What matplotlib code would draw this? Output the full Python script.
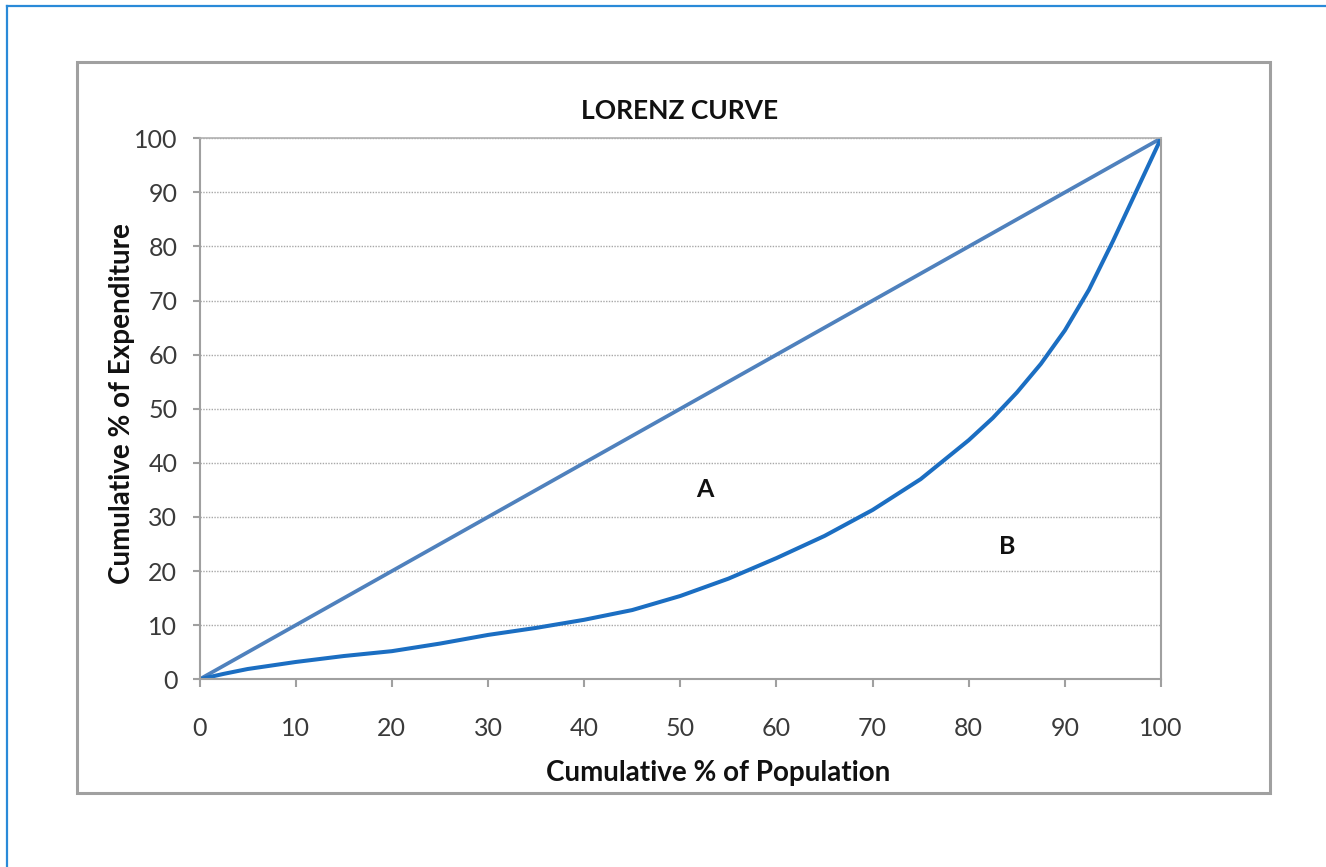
import matplotlib.pyplot as plt
from matplotlib.patches import Rectangle
from matplotlib.lines import Line2D

plt.rcParams["font.family"] = ["Lato", "DejaVu Sans"]

# cumulative % of population / expenditure
pop = [0, 2.5, 5, 10, 15, 20, 25, 30, 35, 40, 45, 50, 55, 60, 65, 70, 75, 80, 82.5, 85,
       87.5, 90, 92.5, 95, 97.5, 100]
expend = [0, 1.0, 1.9, 3.2, 4.3, 5.2, 6.6, 8.2, 9.5, 11, 12.8, 15.4, 18.6, 22.4, 26.5, 31.3,
          37, 44.2, 48.3, 53, 58.3, 64.5, 72, 81, 90.5, 100]

equal_x = [0, 100]
equal_y = [0, 100]

ticks = list(range(0, 101, 10))

fig = plt.figure(figsize=(13.26, 8.67), dpi=100)
ax = fig.add_axes([0.1505, 0.2165, 0.7251, 0.624])

# outer blue frame (top and left only) and grey chart border
fig.add_artist(Line2D([0.0053, 1], [0.9931, 0.9931], transform=fig.transFigure, color="#2a8ad8", lw=1.6))
fig.add_artist(Line2D([0.0053, 0.0053], [0, 0.9931], transform=fig.transFigure, color="#2a8ad8", lw=1.6))
fig.add_artist(Rectangle((0.0581, 0.0854), 0.8997, 0.8431, transform=fig.transFigure,
                         fill=False, edgecolor="#a0a0a0", lw=2.2))

ax.plot(equal_x, equal_y, color="#4f81bd", lw=2.7, solid_capstyle="round")
ax.plot(pop, expend, color="#1b6ec2", lw=2.9, solid_capstyle="round", solid_joinstyle="round")

ax.set_xlim(0, 100)
ax.set_ylim(0, 100)
ax.set_xticks(ticks)
ax.set_yticks(ticks)
ax.grid(axis="y", color="#a8a8a8", linestyle=(0, (1, 1)), lw=1.0)
ax.set_axisbelow(True)

for s in ax.spines.values():
    s.set_color("#a0a0a0")
    s.set_linewidth(1.5)
ax.spines["top"].set_color("#b0b0b0")
ax.spines["top"].set_linewidth(1.2)

ax.tick_params(axis="x", direction="out", length=6, width=1.5, color="#a0a0a0",
               pad=21, labelsize=18, labelcolor="#3a3a3a")
ax.tick_params(axis="y", direction="out", length=5, width=1.5, color="#a0a0a0",
               pad=11, labelsize=18, labelcolor="#3a3a3a")

ax.text(52.6, 35, "A", fontsize=18, fontweight="bold", ha="center", va="center", color="#111111")
ax.text(84, 24.6, "B", fontsize=18, fontweight="bold", ha="center", va="center", color="#111111")

fig.text(680 / 1326, 1 - 111 / 867, "LORENZ CURVE", fontsize=19, fontweight="bold",
         ha="center", va="center", color="#111111")
fig.text(718 / 1326, 1 - 773 / 867, "Cumulative % of Population", fontsize=20, fontweight="bold",
         ha="center", va="center", color="#111111")
fig.text(122 / 1326, 1 - 404 / 867, "Cumulative % of Expenditure", fontsize=20, fontweight="bold",
         ha="center", va="center", rotation=90, color="#111111")

fig.savefig("out.png", dpi=100)
